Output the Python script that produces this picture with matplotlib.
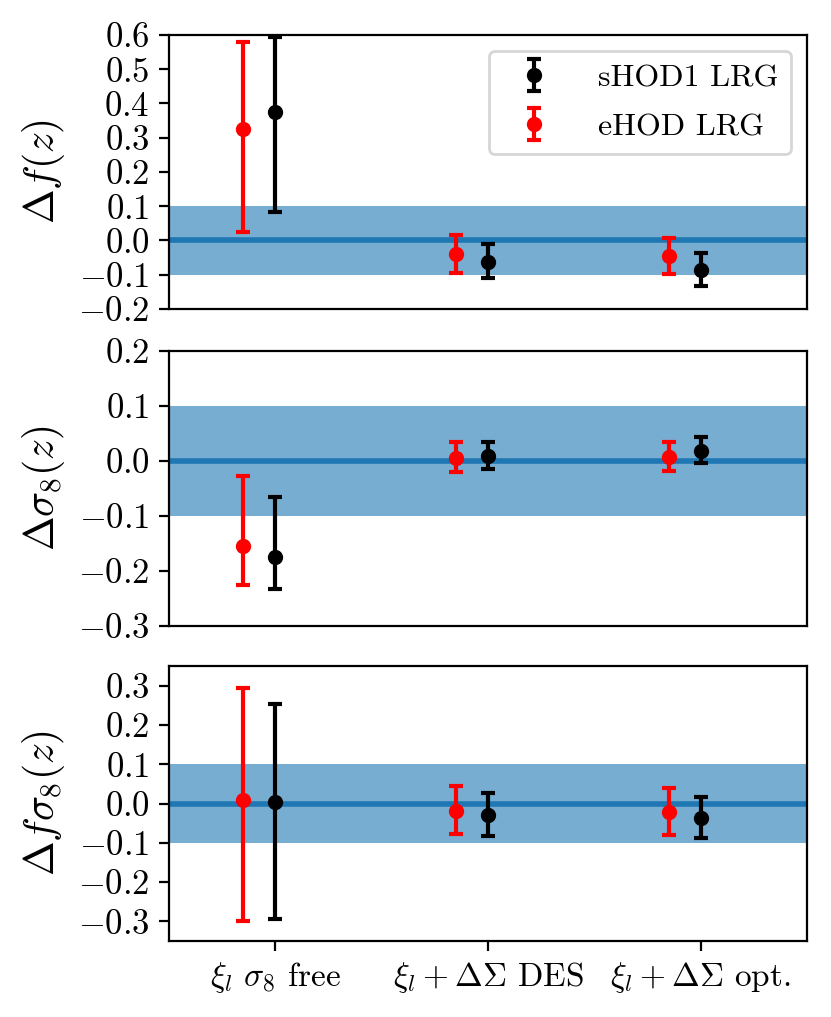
import matplotlib
matplotlib.use("Agg")
import matplotlib.pyplot as plt
from matplotlib.ticker import MultipleLocator
import numpy as np

plt.rcParams["font.family"] = "serif"
plt.rcParams["font.serif"] = ["cmr10"]
plt.rcParams["mathtext.fontset"] = "cm"
plt.rcParams["axes.formatter.use_mathtext"] = True
plt.rcParams["font.size"] = 12
plt.rcParams["ytick.labelsize"] = 12.5
plt.rcParams["xtick.labelsize"] = 12

labels = [r"$\xi_l\ \sigma_8$ free", r"$\xi_l + \Delta\Sigma$ DES", r"$\xi_l + \Delta\Sigma$ opt."]

# valeurs: centre, bas, haut
f_shod = [0.375, -0.062, -0.087]
f_shod_lo = [0.083, -0.110, -0.133]
f_shod_hi = [0.595, -0.010, -0.037]
f_ehod = [0.325, -0.040, -0.045]
f_ehod_lo = [0.025, -0.095, -0.098]
f_ehod_hi = [0.580, 0.015, 0.007]

s8_shod = [-0.174, 0.009, 0.019]
s8_shod_lo = [-0.232, -0.014, -0.003]
s8_shod_hi = [-0.065, 0.034, 0.043]
s8_ehod = [-0.155, 0.006, 0.007]
s8_ehod_lo = [-0.225, -0.020, -0.018]
s8_ehod_hi = [-0.028, 0.034, 0.034]

fs8_shod = [0.005, -0.029, -0.036]
fs8_shod_lo = [-0.293, -0.083, -0.087]
fs8_shod_hi = [0.253, 0.028, 0.017]
fs8_ehod = [0.010, -0.020, -0.022]
fs8_ehod_lo = [-0.300, -0.078, -0.079]
fs8_ehod_hi = [0.295, 0.044, 0.039]

panneaux = [
    (r"$\Delta f(z)$", (-0.2, 0.6), [f_shod, f_shod_lo, f_shod_hi], [f_ehod, f_ehod_lo, f_ehod_hi],
     [0.9656, 0.6962]),
    (r"$\Delta\sigma_8(z)$", (-0.3, 0.2), [s8_shod, s8_shod_lo, s8_shod_hi], [s8_ehod, s8_ehod_lo, s8_ehod_hi],
     [0.6549, 0.3845]),
    (r"$\Delta f\sigma_8(z)$", (-0.35, 0.35), [fs8_shod, fs8_shod_lo, fs8_shod_hi],
     [fs8_ehod, fs8_ehod_lo, fs8_ehod_hi], [0.3451, 0.0747]),
]

fig = plt.figure(figsize=(4.155, 5.085), dpi=200)
x = np.arange(len(labels))
left, right = 0.2034, 0.971
axes = []

for i, (ylab, ylim, shod, ehod, (top, bot)) in enumerate(panneaux):
    ax = fig.add_axes([left, bot, right - left, top - bot])
    ax.axhspan(-0.1, 0.1, color="C0", alpha=0.6, lw=0)
    ax.axhline(0, color="C0", lw=2)
    c, lo, hi = [np.array(v) for v in shod]
    ax.errorbar(x, c, yerr=[c - lo, hi - c], fmt="o", color="k", ms=4.5, capsize=2.5,
                capthick=1.5, label="sHOD1 LRG")
    c, lo, hi = [np.array(v) for v in ehod]
    ax.errorbar(x - 0.15, c, yerr=[c - lo, hi - c], fmt="o", color="r", ms=4.5, capsize=2.5,
                capthick=1.5, label="eHOD LRG")
    ax.set_xlim(-0.5, 2.5)
    ax.set_ylim(*ylim)
    ax.yaxis.set_major_locator(MultipleLocator(0.1))
    ax.set_ylabel(ylab, fontsize=15)
    ax.set_xticks(x)
    if i == 2:
        ax.set_xticklabels(labels)
    else:
        ax.set_xticks([])
    if i == 0:
        ax.legend(loc="upper right", fontsize=11.5, handletextpad=1.0, labelspacing=0.65)
    axes.append(ax)

fig.align_ylabels(axes)
fig.savefig("out.png", dpi=200)
